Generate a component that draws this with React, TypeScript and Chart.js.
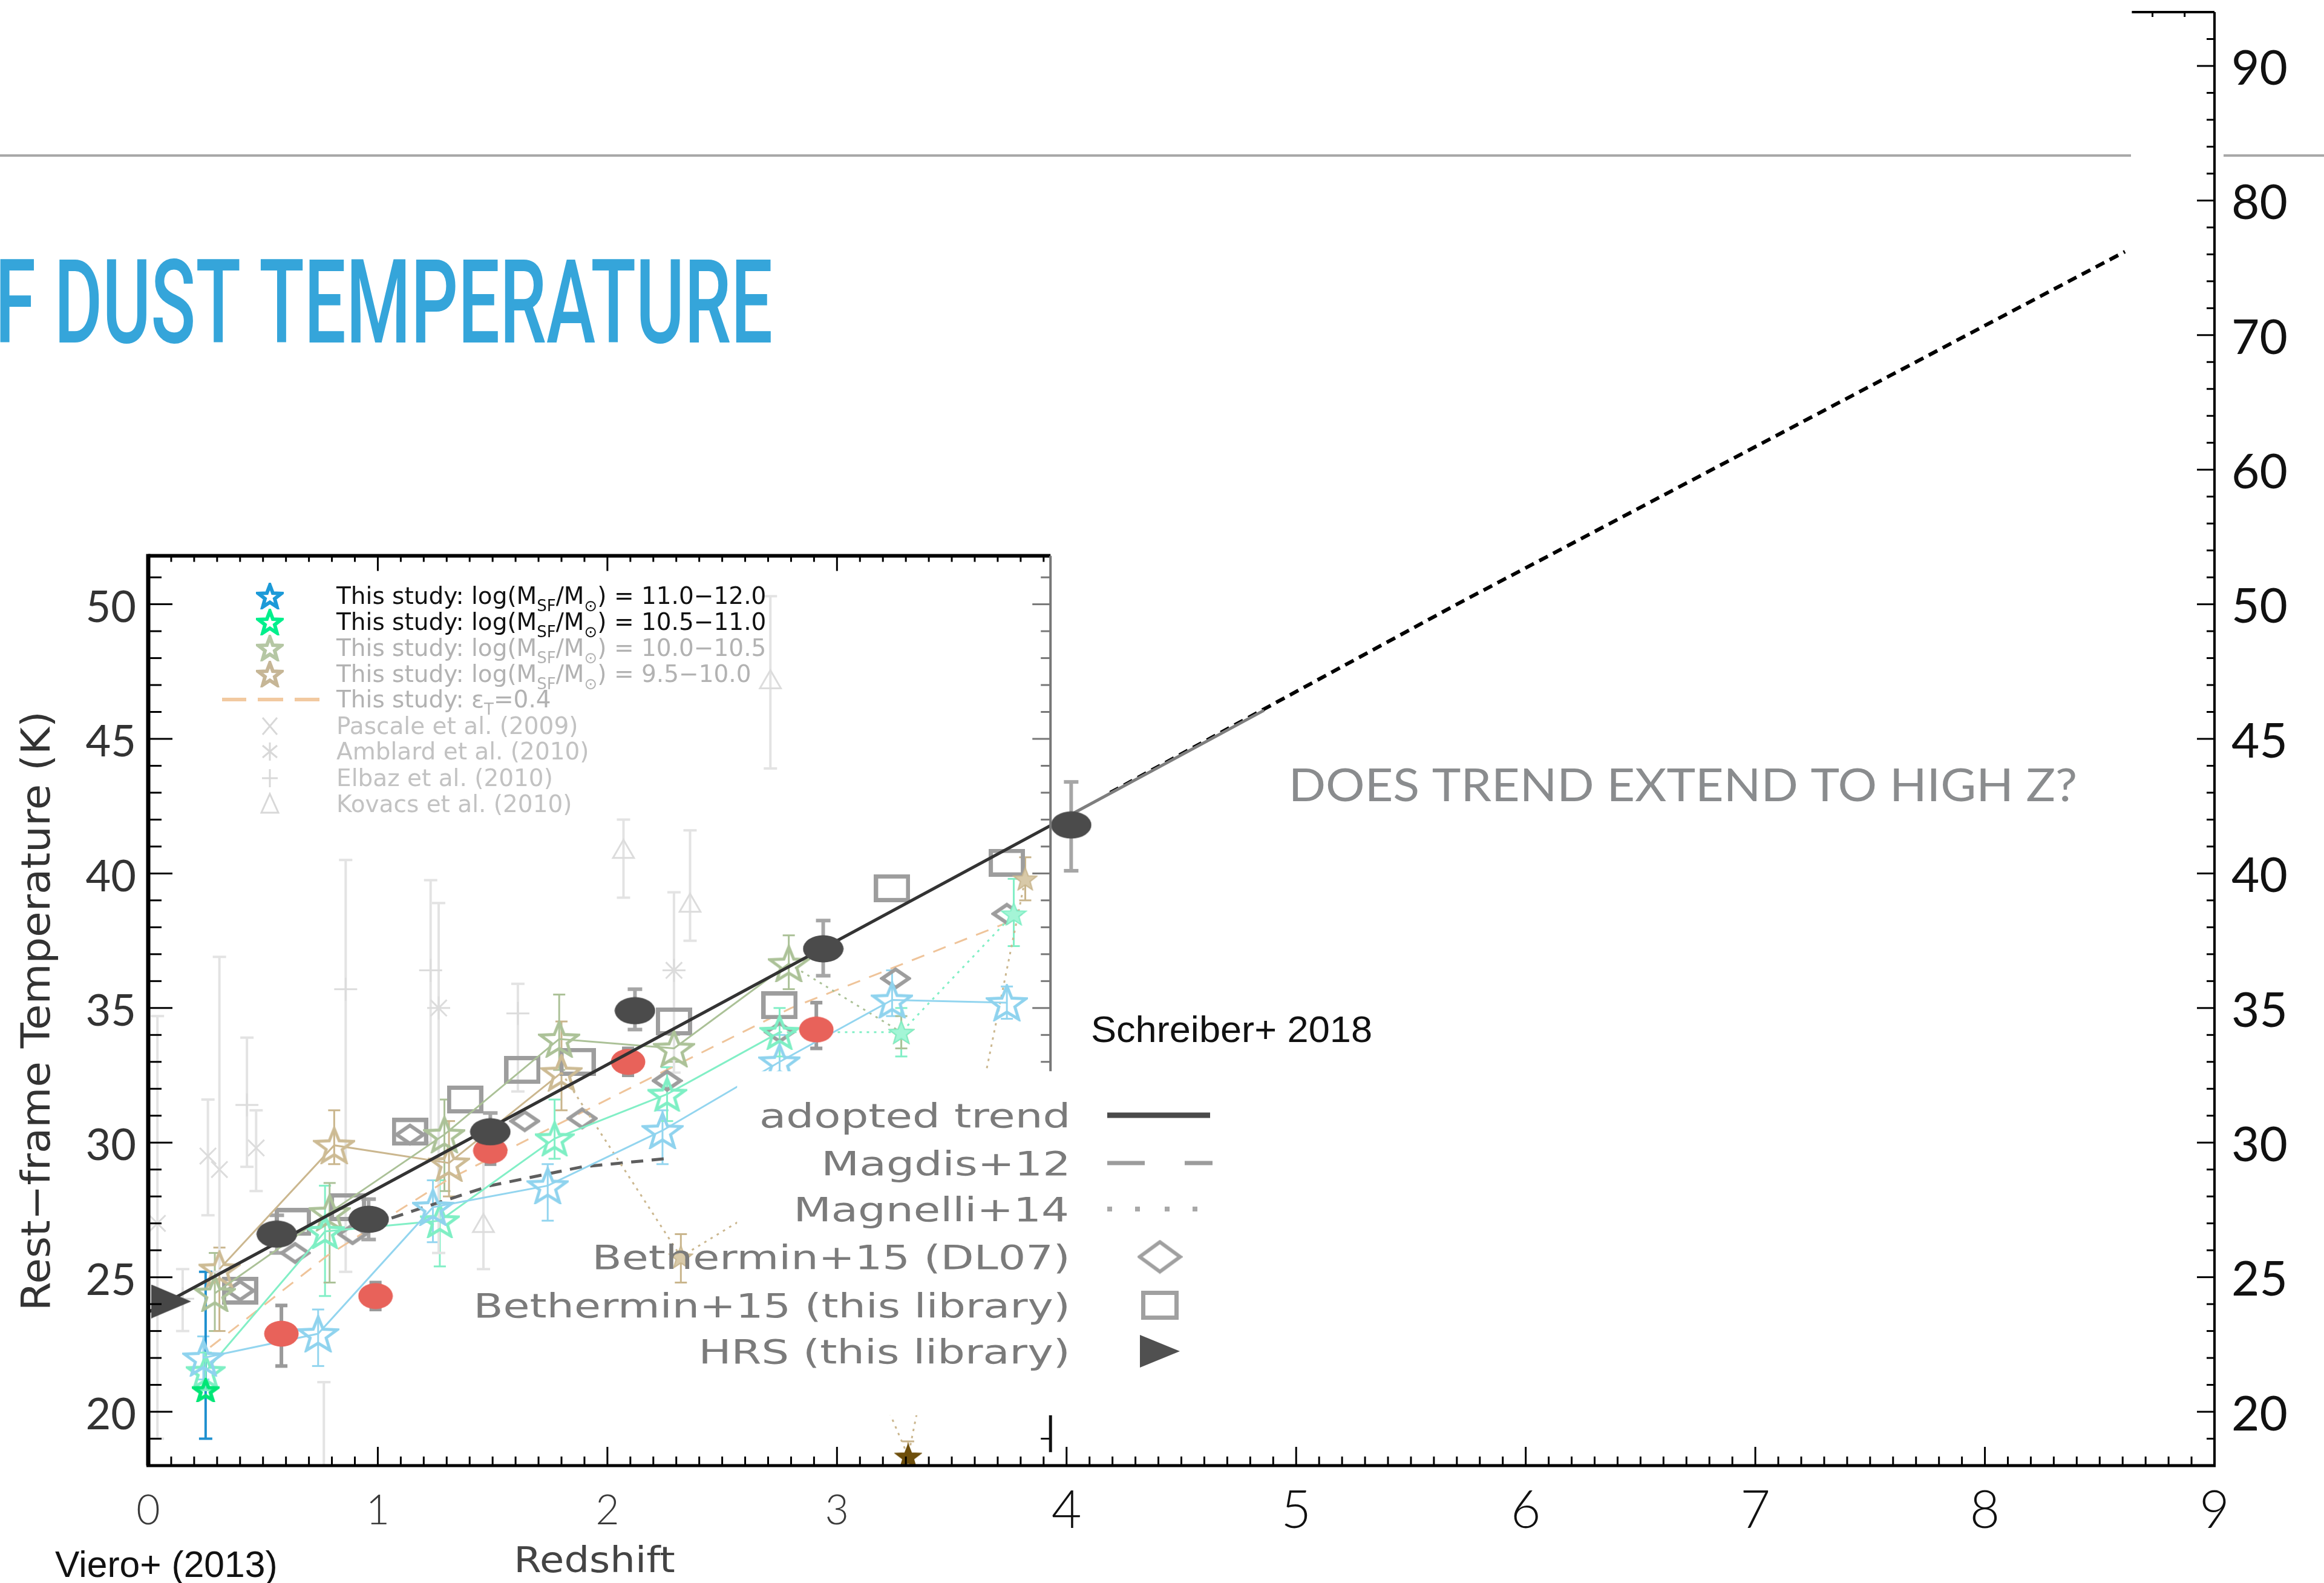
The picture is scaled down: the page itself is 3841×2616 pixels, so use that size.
import React, { useEffect, useRef } from 'react';
import { Chart, LinearScale, registerables } from 'chart.js';

// ---------------- data ----------------
const redshiftTicks = [0, 1, 2, 3, 4, 5, 6, 7, 8, 9];
const tempTicksRight = [20, 25, 30, 35, 40, 45, 50, 60, 70, 80, 90];
const tempTicksInset = [20, 25, 30, 35, 40, 45, 50];

// adopted trend (Schreiber+2018) and its dotted extension to high z
const trendZ = [0, 4.0, 4.86];
const trendT = [23.7, 42.1, 46.06];
const extensionZ = [4.19, 5.7, 8.61];
const extensionT = [43.0, 50.0, 76.2];

// stacked measurements (dark ellipses)
const stackZ = [0.56, 0.96, 1.49, 2.12, 2.94, 4.02];
const stackT = [26.6, 27.15, 30.4, 34.9, 37.2, 41.8];
const stackLo = [25.9, 26.4, 29.7, 34.2, 36.2, 40.1];
const stackHi = [27.3, 27.9, 31.1, 35.7, 38.25, 43.4];

// red ellipses
const redZ = [0.58, 0.99, 1.49, 2.09, 2.91];
const redT = [22.9, 24.3, 29.7, 33.0, 34.2];
const redLo = [21.7, 23.8, 29.2, 32.5, 33.5];
const redHi = [23.95, 24.8, 30.2, 33.5, 35.2];

// HRS (this library)
const hrsZ = [0.1];
const hrsT = [24.1];

// This study: log(Msf/Msun) = 11.0-12.0
const blueZ = [0.24, 0.74, 1.24, 1.74, 2.24, 2.75, 3.24, 3.74];
const blueT = [22.0, 22.9, 27.6, 28.4, 30.45, 33.0, 35.3, 35.2];
const blueLo = [21.2, 21.7, 26.3, 27.1, 29.2, 32.0, 34.7, 34.6];
const blueHi = [22.8, 23.8, 28.6, 29.2, 31.2, 34.0, 36.4, 35.8];

// single saturated point at low z
const vividZ = [0.25];
const vividT = [20.8];
const vividLo = [19.0];
const vividHi = [25.2];

// This study: 10.5-11.0
const greenZ = [0.25, 0.77, 1.27, 1.77, 2.26, 2.75, 3.28, 3.77];
const greenT = [21.5, 26.7, 27.1, 30.15, 31.8, 34.1, 34.1, 38.5];
const greenLo = [20.8, 24.3, 25.4, 29.4, 30.8, 33.2, 33.2, 37.3];
const greenHi = [22.2, 28.4, 28.6, 31.6, 32.8, 35.0, 35.0, 39.8];

// This study: 10.0-10.5
const sageZ = [0.29, 0.79, 1.29, 1.79, 2.29, 2.79, 3.28];
const sageT = [24.4, 27.4, 30.3, 33.85, 33.5, 36.65, 34.1];
const sageLo = [23.0, 24.8, 28.2, 32.7, 33.0, 35.7, 33.5];
const sageHi = [25.9, 28.5, 31.6, 35.5, 34.0, 37.7, 34.7];

// This study: 9.5-10.0
const tanZ = [0.31, 0.81, 1.31, 1.8, 2.32, 2.81, 3.31, 3.82];
const tanT = [25.3, 29.9, 29.24, 32.6, 25.76, 28.3, 18.35, 39.8];
const tanLo = [23.0, 29.2, 28.0, 31.2, 24.8, 27.5, 17.8, 39.0];
const tanHi = [26.1, 31.2, 30.8, 34.5, 26.6, 29.0, 18.9, 40.6];

// This study: eps_T = 0.4
const epsZ = [0.27, 0.78, 1.3, 2.07, 2.8, 3.78];
const epsT = [22.4, 25.8, 28.6, 31.9, 35.0, 38.3];

// Magdis+12
const magdisZ = [1.06, 1.49, 1.89, 2.25];
const magdisT = [27.2, 28.4, 29.1, 29.4];

// Bethermin+15 (DL07) diamonds
const dl07Z = [0.4, 0.64, 0.89, 1.14, 1.64, 1.89, 2.26, 2.75, 3.255, 3.74];
const dl07T = [24.5, 25.9, 26.6, 30.3, 30.8, 30.9, 32.3, 34.1, 36.1, 38.5];

// Bethermin+15 (this library) squares
const libZ = [0.4, 0.63, 0.87, 1.14, 1.38, 1.63, 1.87, 2.29, 2.75, 3.24, 3.74];
const libT = [24.5, 27.05, 27.6, 30.4, 31.6, 32.7, 33.0, 34.5, 35.1, 39.45, 40.4];

// faint literature points
const pascaleZ = [0.04, 0.26, 0.31, 0.47];
const pascaleT = [27.0, 29.5, 29.0, 29.8];
const pascaleLo = [19.0, 27.3, 25.2, 28.2];
const pascaleHi = [34.7, 31.6, 36.9, 31.2];

const amblardZ = [1.265, 2.29];
const amblardT = [35.0, 36.4];
const amblardLo = [25.9, 32.6];
const amblardHi = [38.9, 39.3];

const elbazZ = [0.15, 0.43, 0.86, 1.23, 1.61];
const elbazT = [24.2, 31.4, 35.7, 36.4, 34.8];
const elbazLo = [23.0, 29.1, 25.2, 30.0, 31.9];
const elbazHi = [25.3, 33.9, 40.5, 39.75, 35.9];

const kovacsZ = [0.765, 1.46, 2.07, 2.36, 2.71];
const kovacsT = [16.5, 26.9, 40.8, 38.8, 47.1];
const kovacsLo = [15.0, 25.3, 39.1, 37.5, 43.9];
const kovacsHi = [21.1, 29.5, 42.0, 41.6, 50.3];

// legend labels
const insetLegendLabels = [
  [{ t: 'This study: log(M' }, { t: 'SF', sub: true }, { t: '/M' }, { t: '⊙', sub: true }, { t: ') = 11.0−12.0' }],
  [{ t: 'This study: log(M' }, { t: 'SF', sub: true }, { t: '/M' }, { t: '⊙', sub: true }, { t: ') = 10.5−11.0' }],
  [{ t: 'This study: log(M' }, { t: 'SF', sub: true }, { t: '/M' }, { t: '⊙', sub: true }, { t: ') = 10.0−10.5' }],
  [{ t: 'This study: log(M' }, { t: 'SF', sub: true }, { t: '/M' }, { t: '⊙', sub: true }, { t: ') = 9.5−10.0' }],
  [{ t: 'This study: ε' }, { t: 'T', sub: true }, { t: '=0.4' }],
  [{ t: 'Pascale et al. (2009)' }],
  [{ t: 'Amblard et al. (2010)' }],
  [{ t: 'Elbaz et al. (2010)' }],
  [{ t: 'Kovacs et al. (2010)' }],
];
const modelLegendLabels = [
  'adopted trend',
  'Magdis+12',
  'Magnelli+14',
  'Bethermin+15 (DL07)',
  'Bethermin+15 (this library)',
  'HRS (this library)',
];

// ---------------- broken temperature scale ----------------
function toU(v: number) {
  return v <= 50 ? (v - 20) / 5 : 6 + (v - 50) / 10;
}
function fromU(u: number) {
  return u <= 6 ? 20 + 5 * u : 50 + 10 * (u - 6);
}

class BrokenScale extends (LinearScale as any) {
  static id = 'broken';
  static defaults = {};
  buildTicks() {
    (this as any).start = (this as any).min;
    (this as any).end = (this as any).max;
    return tempTicksRight.map((v) => ({ value: v }));
  }
  getPixelForValue(value: number) {
    if (value === null || value === undefined || isNaN(value)) return NaN;
    const a = toU((this as any).min);
    const b = toU((this as any).max);
    return (this as any).getPixelForDecimal((toU(value) - a) / (b - a));
  }
  getValueForPixel(pixel: number) {
    const a = toU((this as any).min);
    const b = toU((this as any).max);
    return fromU(a + (this as any).getDecimalForPixel(pixel) * (b - a));
  }
}

Chart.register(...registerables, BrokenScale as any);

// ---------------- marker images ----------------
function mk(w: number, h: number) {
  const c = document.createElement('canvas');
  c.width = w;
  c.height = h;
  return [c, c.getContext('2d') as CanvasRenderingContext2D] as const;
}
function starCanvas(w: number, h: number, color: string, lw: number, fill?: string) {
  const [c, g] = mk(w, h);
  const pad = lw / 2 + 1;
  const rx = (w / 2 - pad) / 0.951;
  const ry = (h - 2 * pad) / 1.809;
  const cx = w / 2;
  const cy = pad + ry;
  g.beginPath();
  for (let i = 0; i < 10; i++) {
    const a = -Math.PI / 2 + (i * Math.PI) / 5;
    const r = i % 2 === 0 ? 1 : 0.42;
    const px = cx + rx * r * Math.cos(a);
    const py = cy + ry * r * Math.sin(a);
    if (i === 0) g.moveTo(px, py);
    else g.lineTo(px, py);
  }
  g.closePath();
  if (fill) {
    g.fillStyle = fill;
    g.fill();
  }
  if (lw > 0) {
    g.lineJoin = 'miter';
    g.lineWidth = lw;
    g.strokeStyle = color;
    g.stroke();
  }
  return c;
}
function ellipseCanvas(w: number, h: number, color: string) {
  const [c, g] = mk(w, h);
  g.beginPath();
  g.ellipse(w / 2, h / 2, w / 2 - 0.5, h / 2 - 0.5, 0, 0, Math.PI * 2);
  g.fillStyle = color;
  g.fill();
  return c;
}
function rectCanvas(w: number, h: number, color: string, lw: number) {
  const [c, g] = mk(w, h);
  g.strokeStyle = color;
  g.lineWidth = lw;
  g.strokeRect(lw / 2, lw / 2, w - lw, h - lw);
  return c;
}
function diamondCanvas(w: number, h: number, color: string, lw: number) {
  const [c, g] = mk(w, h);
  g.beginPath();
  g.moveTo(w / 2, lw / 2 + 1);
  g.lineTo(w - lw / 2 - 1, h / 2);
  g.lineTo(w / 2, h - lw / 2 - 1);
  g.lineTo(lw / 2 + 1, h / 2);
  g.closePath();
  g.strokeStyle = color;
  g.lineWidth = lw;
  g.lineJoin = 'miter';
  g.stroke();
  return c;
}
function triCanvas(w: number, h: number, color: string) {
  const [c, g] = mk(w, h);
  g.beginPath();
  g.moveTo(0, 0);
  g.lineTo(w, h / 2);
  g.lineTo(0, h);
  g.closePath();
  g.fillStyle = color;
  g.fill();
  return c;
}

function buildStyles() {
  return {
    darkEll: ellipseCanvas(68, 46, '#4b4b4b'),
    redEll: ellipseCanvas(58, 44, '#e8625a'),
    tri: triCanvas(66, 56, '#474747'),
    square: rectCanvas(60, 46, '#9d9d9d', 7),
    diamond: diamondCanvas(52, 38, '#9d9d9d', 6),
    blueStar: starCanvas(70, 62, '#8fd3ee', 5),
    greenStar: starCanvas(66, 58, '#7eefc4', 5),
    greenFill: starCanvas(44, 40, '#7eefc4', 2, '#a4f5d6'),
    sageStar: starCanvas(70, 62, '#acc298', 5),
    sageFill: starCanvas(44, 40, '#acc298', 2, '#c2d3b0'),
    tanStar: starCanvas(70, 62, '#cdbb94', 5),
    tanFill: starCanvas(42, 40, '#c9b68e', 2, '#d8c9a8'),
    brownFill: starCanvas(46, 42, '#6e4f0c', 2, '#6e4f0c'),
    vividStar: starCanvas(46, 40, '#00e676', 6),
    legBlue: starCanvas(46, 44, '#1c9ad8', 6),
    legGreen: starCanvas(46, 44, '#00ef8c', 6),
    legSage: starCanvas(46, 44, '#b5c7a4', 6),
    legTan: starCanvas(46, 44, '#c6b696', 6),
    legSquare: rectCanvas(62, 48, '#a0a0a0', 7),
    legDiamond: diamondCanvas(75, 57, '#a0a0a0', 6),
    legTri: triCanvas(66, 54, '#505050'),
  };
}

const P = (zs: number[], ts: number[]) => zs.map((z, i) => ({ x: z, y: ts[i] }));
const rep = (v: any, n: number) => Array.from({ length: n }, () => v);

function makeDatasets(S: any) {
  const base = { xAxisID: 'x', yAxisID: 'yi', tension: 0, fill: false, pointHitRadius: 0 };
  const faint = {
    ...base,
    showLine: false,
    pointRadius: 19,
    pointBorderWidth: 3,
    pointBorderColor: '#dcdcdc',
    pointBackgroundColor: 'rgba(0,0,0,0)',
    errColor: '#e3e3e3',
    errWidth: 4,
    errCap: 22,
    order: 20,
  };
  return [
    { ...base, label: 'HRS (this library)', data: P(hrsZ, hrsT), showLine: false, pointStyle: S.tri, pointRadius: 30, order: 0 },
    {
      ...base, label: 'stacks', data: P(stackZ, stackT), showLine: false, pointStyle: S.darkEll, pointRadius: 34, order: 1,
      errLo: stackLo, errHi: stackHi, errColor: '#a6a6a6', errWidth: 6, errCap: 24,
    },
    {
      ...base, label: 'adopted trend', data: P(trendZ, trendT), borderColor: '#333333', borderWidth: 5, pointRadius: 0, order: 2,
      segment: { borderColor: (c: any) => (c.p0.parsed.x >= 3.99 ? '#7e7e7e' : undefined) },
    },
    {
      ...base, yAxisID: 'y', label: 'extension', data: P(extensionZ, extensionT), borderColor: '#000000', borderWidth: 6,
      borderDash: [16, 10], pointRadius: 0, order: 2,
    },
    {
      ...base, label: 'red', data: P(redZ, redT), showLine: false, pointStyle: S.redEll, pointRadius: 30, order: 3,
      errLo: redLo, errHi: redHi, errColor: '#9a9a9a', errWidth: 6, errCap: 20,
    },
    {
      ...base, label: '11.0-12.0', data: P(blueZ, blueT), borderColor: '#93d5ef', borderWidth: 3, pointStyle: S.blueStar, pointRadius: 32, order: 4,
      errLo: blueLo, errHi: blueHi, errColor: '#93d5ef', errWidth: 3, errCap: 20,
    },
    {
      ...base, label: 'vivid', data: P(vividZ, vividT), showLine: false, pointStyle: S.vividStar, pointRadius: 22, order: 4,
      errLo: vividLo, errHi: vividHi, errColor: '#1e90cf', errWidth: 4, errCap: 22,
    },
    {
      ...base, label: '10.5-11.0', data: P(greenZ, greenT), borderColor: '#82efc6', borderWidth: 3,
      pointStyle: [...rep(S.greenStar, 6), S.greenFill, S.greenFill], pointRadius: 30, order: 5,
      segment: { borderDash: (c: any) => (c.p0.parsed.x >= 2.7 ? [4, 8] : undefined) },
      errLo: greenLo, errHi: greenHi, errColor: '#82efc6', errWidth: 3, errCap: 20,
    },
    {
      ...base, label: '10.0-10.5', data: P(sageZ, sageT), borderColor: '#abc197', borderWidth: 3,
      pointStyle: [...rep(S.sageStar, 6), S.sageFill], pointRadius: 32, order: 6,
      segment: { borderDash: (c: any) => (c.p0.parsed.x >= 2.78 ? [4, 8] : undefined) },
      errLo: sageLo, errHi: sageHi, errColor: '#abc197', errWidth: 3, errCap: 20,
    },
    {
      ...base, label: '9.5-10.0', data: P(tanZ, tanT), borderColor: '#cbb78f', borderWidth: 3,
      pointStyle: [...rep(S.tanStar, 4), S.tanFill, S.tanFill, S.brownFill, S.tanFill], pointRadius: 32, order: 7,
      segment: { borderDash: (c: any) => (c.p0.parsed.x >= 1.79 ? [4, 8] : undefined) },
      errLo: tanLo, errHi: tanHi, errColor: '#c9b58c', errWidth: 3, errCap: 20,
    },
    { ...base, label: 'Bethermin+15 (DL07)', data: P(dl07Z, dl07T), showLine: false, pointStyle: S.diamond, pointRadius: 26, order: 8 },
    { ...base, label: 'Bethermin+15 (this library)', data: P(libZ, libT), showLine: false, pointStyle: S.square, pointRadius: 30, order: 9 },
    {
      ...base, label: 'eps_T=0.4', data: P(epsZ, epsT), borderColor: '#efc49a', borderWidth: 3, borderDash: [22, 16], pointRadius: 0, order: 10,
    },
    {
      ...base, label: 'Magdis+12', data: P(magdisZ, magdisT), borderColor: '#5e5e5e', borderWidth: 5, borderDash: [20, 14], pointRadius: 0, order: 10,
    },
    { ...faint, label: 'Pascale et al. (2009)', data: P(pascaleZ, pascaleT), pointStyle: 'crossRot', errLo: pascaleLo, errHi: pascaleHi },
    { ...faint, label: 'Amblard et al. (2010)', data: P(amblardZ, amblardT), pointStyle: 'star', errLo: amblardLo, errHi: amblardHi },
    { ...faint, label: 'Elbaz et al. (2010)', data: P(elbazZ, elbazT), pointStyle: 'cross', errLo: elbazLo, errHi: elbazHi },
    { ...faint, label: 'Kovacs et al. (2010)', data: P(kovacsZ, kovacsT), pointStyle: 'triangle', pointRadius: 20, errLo: kovacsLo, errHi: kovacsHi },
  ];
}

// ---------------- drawing helpers ----------------
function seg(ctx: CanvasRenderingContext2D, x1: number, y1: number, x2: number, y2: number, color: string, lw: number) {
  ctx.beginPath();
  ctx.moveTo(x1, y1);
  ctx.lineTo(x2, y2);
  ctx.strokeStyle = color;
  ctx.lineWidth = lw;
  ctx.stroke();
}
function fitInk(ctx: CanvasRenderingContext2D, s: string, left: number, right: number, baseline: number, font: string, color: string) {
  ctx.save();
  ctx.font = font;
  ctx.fillStyle = color;
  ctx.textAlign = 'left';
  ctx.textBaseline = 'alphabetic';
  const m = ctx.measureText(s);
  const inkW = m.actualBoundingBoxLeft + m.actualBoundingBoxRight;
  const k = (right - left) / inkW;
  ctx.translate(left, baseline);
  ctx.scale(k, 1);
  ctx.fillText(s, m.actualBoundingBoxLeft, 0);
  ctx.restore();
}
function drawRuns(ctx: CanvasRenderingContext2D, x: number, baseline: number, runs: any[], size: number, color: string) {
  let cx = x;
  ctx.fillStyle = color;
  ctx.textAlign = 'left';
  ctx.textBaseline = 'alphabetic';
  for (const r of runs) {
    const fs = r.sub ? Math.round(size * 0.66) : size;
    ctx.font = `${fs}px 'DejaVu Sans'`;
    ctx.fillText(r.t, cx, baseline + (r.sub ? size * 0.3 : 0));
    cx += ctx.measureText(r.t).width;
  }
}

function makeDecor(S: any) {
  return {
    id: 'decor',
    beforeDatasetsDraw(chart: any) {
      const ctx: CanvasRenderingContext2D = chart.ctx;
      const a = chart.chartArea;
      ctx.save();
      ctx.beginPath();
      ctx.rect(a.left, a.top, a.right - a.left, a.bottom - a.top);
      ctx.clip();
      chart.data.datasets.forEach((ds: any, i: number) => {
        if (!ds.errLo) return;
        const meta = chart.getDatasetMeta(i);
        const ys = meta.yScale;
        meta.data.forEach((pt: any, j: number) => {
          const lo = ds.errLo[j];
          const hi = ds.errHi[j];
          if (lo == null || hi == null) return;
          const x = pt.x;
          const y1 = ys.getPixelForValue(lo);
          const y2 = ys.getPixelForValue(hi);
          seg(ctx, x, y1, x, y2, ds.errColor, ds.errWidth);
          const c = ds.errCap / 2;
          seg(ctx, x - c, y1, x + c, y1, ds.errColor, ds.errWidth);
          seg(ctx, x - c, y2, x + c, y2, ds.errColor, ds.errWidth);
        });
      });
      ctx.restore();
    },
    afterDatasetsDraw(chart: any) {
      const ctx: CanvasRenderingContext2D = chart.ctx;
      const a = chart.chartArea;
      const X = (v: number) => chart.scales.x.getPixelForValue(v);
      const YI = (v: number) => chart.scales.yi.getPixelForValue(v);
      const YR = (v: number) => chart.scales.y.getPixelForValue(v);
      const insetTop = YI(51.8);
      const insetRight = X(3.93);
      ctx.save();
      ctx.lineCap = 'butt';

      // white panel behind the model legend
      ctx.fillStyle = '#ffffff';
      ctx.fillRect(X(2.565), YI(32.65), X(4.95) - X(2.565), YI(19.87) - YI(32.65));

      // ---- main bottom axis ----
      seg(ctx, a.left - 3, a.bottom, a.right + 2, a.bottom, '#000', 5);
      for (let k = 0; k <= 90; k++) {
        const x = X(k / 10);
        const len = k % 10 === 0 ? 31 : 15;
        seg(ctx, x, a.bottom, x, a.bottom - len, '#000', 3);
      }
      // ---- main right axis ----
      seg(ctx, a.right, a.top, a.right, a.bottom + 2, '#000', 4);
      const rt: number[] = [];
      for (let t = 18; t <= 50; t++) rt.push(t);
      for (let t = 52; t <= 94; t += 2) rt.push(t);
      rt.forEach((t) => {
        const major = t >= 20 && (t <= 50 ? t % 5 === 0 : t % 10 === 0);
        const y = YR(t);
        seg(ctx, a.right - (major ? 29 : 13), y, a.right, y, '#000', 3);
      });
      // top-right fragment of frame
      seg(ctx, X(8.64), a.top, a.right, a.top, '#000', 4);
      [8.73, 8.87].forEach((z) => seg(ctx, X(z), a.top, X(z), a.top + 8, '#000', 3));

      // ---- inset axes ----
      seg(ctx, a.left, insetTop - 3, a.left, a.bottom, '#000', 7);
      for (let t = 18; t <= 51; t++) {
        const y = YI(t);
        seg(ctx, a.left, y, a.left + (t % 5 === 0 ? 40 : 22), y, '#000', 3);
      }
      seg(ctx, a.left, insetTop, insetRight, insetTop, '#000', 6);
      for (let k = 1; k <= 39; k++) {
        const x = X(k / 10);
        seg(ctx, x, insetTop, x, insetTop + (k % 10 === 0 ? 25 : 10), '#000', 3);
      }
      seg(ctx, insetRight, insetTop, insetRight, YI(32.65), '#777', 4);
      for (let t = 33; t <= 51; t++) {
        const y = YI(t);
        seg(ctx, insetRight - (t % 5 === 0 ? 30 : 16), y, insetRight, y, '#777', 3);
      }
      seg(ctx, insetRight, YI(19.87), insetRight, YI(18.5), '#111', 5);
      seg(ctx, insetRight - 16, YI(19), insetRight, YI(19), '#111', 3);

      // ---- inset legend (top-left) ----
      const rowsY = [985, 1028, 1071, 1114, 1156, 1200, 1242, 1286, 1329];
      const rowColors = ['#111', '#111', '#b2b2b2', '#b2b2b2', '#b2b2b2', '#c2c2c2', '#c2c2c2', '#c2c2c2', '#c2c2c2'];
      const symX = 446;
      [S.legBlue, S.legGreen, S.legSage, S.legTan].forEach((img: any, i: number) => {
        ctx.drawImage(img, symX - img.width / 2, rowsY[i] - img.height / 2);
      });
      ctx.setLineDash([]);
      [[367, 407], [426, 468], [487, 528]].forEach(([x1, x2]) => seg(ctx, x1, rowsY[4], x2, rowsY[4], '#f2c9a0', 6));
      const fc = '#d8d8d8';
      const r6 = rowsY[5];
      seg(ctx, symX - 12, r6 - 14, symX + 12, r6 + 14, fc, 3);
      seg(ctx, symX - 12, r6 + 14, symX + 12, r6 - 14, fc, 3);
      const r7 = rowsY[6];
      seg(ctx, symX, r7 - 15, symX, r7 + 15, fc, 3);
      seg(ctx, symX - 12, r7 - 10, symX + 12, r7 + 10, fc, 3);
      seg(ctx, symX - 12, r7 + 10, symX + 12, r7 - 10, fc, 3);
      const r8 = rowsY[7];
      seg(ctx, symX, r8 - 15, symX, r8 + 15, fc, 3);
      seg(ctx, symX - 13, r8, symX + 13, r8, fc, 3);
      const r9 = rowsY[8];
      ctx.beginPath();
      ctx.moveTo(symX, r9 - 17);
      ctx.lineTo(symX + 14, r9 + 14);
      ctx.lineTo(symX - 14, r9 + 14);
      ctx.closePath();
      ctx.strokeStyle = fc;
      ctx.lineWidth = 3;
      ctx.stroke();
      insetLegendLabels.forEach((runs, i) => drawRuns(ctx, 556, rowsY[i] + 13, runs, 39, rowColors[i]));

      // ---- model legend (right-aligned) ----
      const mY = [1843, 1922, 1998, 2077, 2157, 2233];
      const mLeft = [1259, 1364, 1318, 985, 789, 1161];
      modelLegendLabels.forEach((s, i) => fitInk(ctx, s, mLeft[i], 1763, mY[i] + 20, "55px 'DejaVu Sans'", '#7b7b7b'));
      seg(ctx, 1830, mY[0], 2000, mY[0], '#4a4a4a', 9);
      seg(ctx, 1830, mY[1], 1892, mY[1], '#9c9c9c', 7);
      seg(ctx, 1958, mY[1], 2004, mY[1], '#9c9c9c', 7);
      [1834, 1880, 1929, 1975].forEach((x) => {
        ctx.fillStyle = '#a8a8a8';
        ctx.fillRect(x - 4, mY[2] - 4, 8, 8);
      });
      [S.legDiamond, S.legSquare, S.legTri].forEach((img: any, i: number) => {
        ctx.drawImage(img, 1917 - img.width / 2, mY[3 + i] - img.height / 2);
      });

      // ---- texts ----
      fitInk(ctx, 'F DUST TEMPERATURE', 0, 1274, 566, "500 193px Roboto", '#35a5da');
      ctx.fillStyle = '#a8a8a8';
      ctx.fillRect(0, 255, 3522, 4);
      ctx.fillRect(3675, 255, 3841 - 3675, 4);
      fitInk(ctx, 'DOES TREND EXTEND TO HIGH Z?', 2136, 3430, 1324, '76px Lato', '#8a8c8e');
      fitInk(ctx, 'Schreiber+ 2018', 1805, 2266, 1722, "61px 'Liberation Sans'", '#111');
      fitInk(ctx, 'Viero+ (2013)', 91, 455, 2606, "62px 'Liberation Sans'", '#111');
      fitInk(ctx, 'Redshift', 855, 1115, 2598, "58px 'DejaVu Sans'", '#444');
      ctx.save();
      ctx.translate(82, 2160);
      ctx.rotate(-Math.PI / 2);
      fitInk(ctx, 'Rest−frame Temperature (K)', 0, 980, 0, "66px 'DejaVu Sans'", '#333');
      ctx.restore();

      ctx.restore();
    },
  };
}

const zeroPad = (s: any) => {
  s.paddingLeft = 0;
  s.paddingRight = 0;
  s.paddingTop = 0;
  s.paddingBottom = 0;
};

export default function App() {
  const ref = useRef<HTMLCanvasElement | null>(null);
  useEffect(() => {
    const canvas = ref.current;
    if (!canvas) return;
    const S = buildStyles();
    const chart = new Chart(canvas, {
      type: 'line',
      data: { datasets: makeDatasets(S) as any },
      options: {
        animation: false,
        responsive: false,
        devicePixelRatio: 1,
        events: [],
        layout: { autoPadding: false, padding: { top: 20, left: 0, right: 0, bottom: 0 } },
        plugins: { legend: { display: false }, tooltip: { enabled: false }, title: { display: false } },
        scales: {
          x: {
            type: 'linear',
            position: 'bottom',
            min: redshiftTicks[0],
            max: redshiftTicks[redshiftTicks.length - 1],
            grid: { display: false, drawTicks: false },
            border: { display: false },
            ticks: {
              stepSize: 1,
              autoSkip: false,
              maxRotation: 0,
              minRotation: 0,
              padding: 35,
              color: (c: any) => (c.tick && c.tick.value <= 3 ? '#3a3a3a' : '#111111'),
              font: (c: any) =>
                c.tick && c.tick.value <= 3
                  ? { family: 'Lato', weight: 300, size: 68, lineHeight: '80px' }
                  : { family: 'Lato', weight: 300, size: 86, lineHeight: '80px' },
            },
            afterFit: (s: any) => {
              s.height = 194;
              zeroPad(s);
            },
          },
          y: {
            type: 'broken' as any,
            position: 'right',
            min: 18,
            max: 94,
            grid: { display: false, drawTicks: false },
            border: { display: false },
            ticks: {
              autoSkip: false,
              padding: 28,
              labelOffset: 5,
              color: '#111',
              font: { family: 'Lato', size: 80 },
              callback: (v: any) => String(v),
            },
            afterFit: (s: any) => {
              s.width = 181;
              zeroPad(s);
            },
          },
          yi: {
            type: 'linear',
            position: 'left',
            min: 18,
            max: 72,
            grid: { display: false, drawTicks: false },
            border: { display: false },
            afterBuildTicks: (s: any) => {
              s.ticks = tempTicksInset.map((v) => ({ value: v }));
            },
            ticks: {
              autoSkip: false,
              padding: 20,
              labelOffset: 6,
              color: '#333',
              font: { family: 'Lato', size: 72 },
              callback: (v: any) => String(v),
            },
            afterFit: (s: any) => {
              s.width = 245;
              zeroPad(s);
            },
          },
        } as any,
      },
      plugins: [makeDecor(S) as any],
    });
    return () => chart.destroy();
  }, []);
  return (
    <div style={{ position: 'fixed', left: 0, top: 0, width: 3841, height: 2616, background: '#ffffff' }}>
      <canvas ref={ref} width={3841} height={2616} style={{ width: 3841, height: 2616, display: 'block' }} />
    </div>
  );
}
